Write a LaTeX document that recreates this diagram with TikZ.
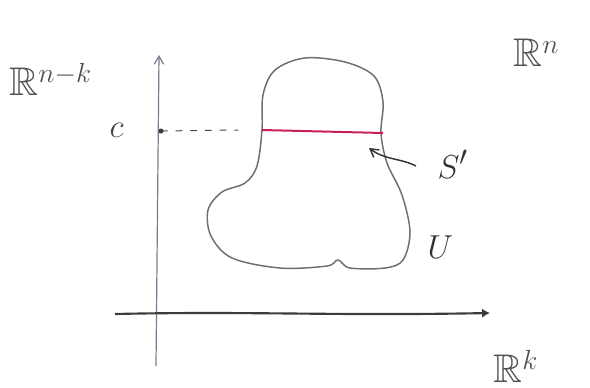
\documentclass[tikz,border=0pt]{standalone}
\usepackage{amssymb}
\usetikzlibrary{arrows.meta}

\tikzset{every picture/.style={line width=0.75pt}}

\begin{document}
\begin{tikzpicture}[x=0.75pt,y=0.75pt,yscale=-1,xscale=1]
\useasboundingbox (0,0) rectangle (590,387);

%Coordinates
\coordinate (yb) at (156,366);
\coordinate (yt) at (159,55);
\coordinate (xl) at (115,314);
\coordinate (xr) at (490,313);
\coordinate (cl) at (161,131);
\coordinate (cr) at (238,130);
\coordinate (sl) at (262,130);
\coordinate (sr) at (383,133);
\coordinate (aa) at (416,166);
\coordinate (ab) at (369,148);

%Straight Lines
\draw [color={rgb, 255:red, 120; green, 125; blue, 140 }  ,draw opacity=1 ][line width=0.9] [-{Straight Barb[length=6pt,width=7pt]}]  (yb) -- (yt) ;
%Straight Lines
\draw [color={rgb, 255:red, 60; green, 60; blue, 60 }  ,draw opacity=1 ][line width=1.6] [-{Latex[length=6pt,width=7pt]}]  (xl) .. controls (250,311) and (330,316) .. (xr) ;
%Shape: Blob
\draw [color={rgb, 255:red, 110; green, 110; blue, 110 }  ,draw opacity=1 ][line width=1.1]  plot [smooth cycle, tension=0.55] coordinates {(262,130) (263,95) (275,70) (305,58) (345,62) (374,76) (383,102) (381,133) (387,163) (402,195) (410,232) (403,260) (385,268) (350,268) (338,260) (327,266) (280,268) (232,258) (211,236) (208,210) (222,192) (245,183) (257,166)} ;
%Straight Lines
\draw [color={rgb, 255:red, 200; green, 30; blue, 95 }  ,draw opacity=1 ][line width=1.5]  (sl) -- (sr) ;
%Dashed Lines
\draw [color={rgb, 255:red, 70; green, 70; blue, 70 }  ,draw opacity=1 ][dash pattern={on 5pt off 6pt}]  (cl) -- (cr) ;
%Shape: Circle
\fill [color={rgb, 255:red, 60; green, 60; blue, 60 }] (cl) circle (2.5) ;
%Curve Lines
\draw [color={rgb, 255:red, 50; green, 50; blue, 50 }  ,draw opacity=1 ][line width=1.1] [-{Straight Barb[length=6pt,width=7pt]}]  (aa) .. controls (400,158) and (385,160) .. (ab) ;

% Text Node
\draw (8,95) node (rnk) [anchor=base west][inner sep=0.75pt]  [font=\fontsize{30}{36}\selectfont,color={rgb, 255:red, 80; green, 80; blue, 80 }]  {$\mathbb{R}^{n-k}$};
% Text Node
\draw (512,66) node (rn) [anchor=base west][inner sep=0.75pt]  [font=\fontsize{30}{36}\selectfont,color={rgb, 255:red, 80; green, 80; blue, 80 }]  {$\mathbb{R}^{n}$};
% Text Node
\draw (492,382) node (rk) [anchor=base west][inner sep=0.75pt]  [font=\fontsize{30}{36}\selectfont,color={rgb, 255:red, 80; green, 80; blue, 80 }]  {$\mathbb{R}^{k}$};
% Text Node
\draw (108,137) node (c) [anchor=base west][inner sep=0.75pt]  [font=\fontsize{26}{30}\selectfont,color={rgb, 255:red, 70; green, 70; blue, 70 }]  {$c$};
% Text Node
\draw (436,178) node (s) [anchor=base west][inner sep=0.75pt]  [font=\fontsize{30}{36}\selectfont,color={rgb, 255:red, 50; green, 50; blue, 50 }]  {$S'$};
% Text Node
\draw (426,258) node (u) [anchor=base west][inner sep=0.75pt]  [font=\fontsize{30}{36}\selectfont,color={rgb, 255:red, 50; green, 50; blue, 50 }]  {$U$};

\end{tikzpicture}
\end{document}
